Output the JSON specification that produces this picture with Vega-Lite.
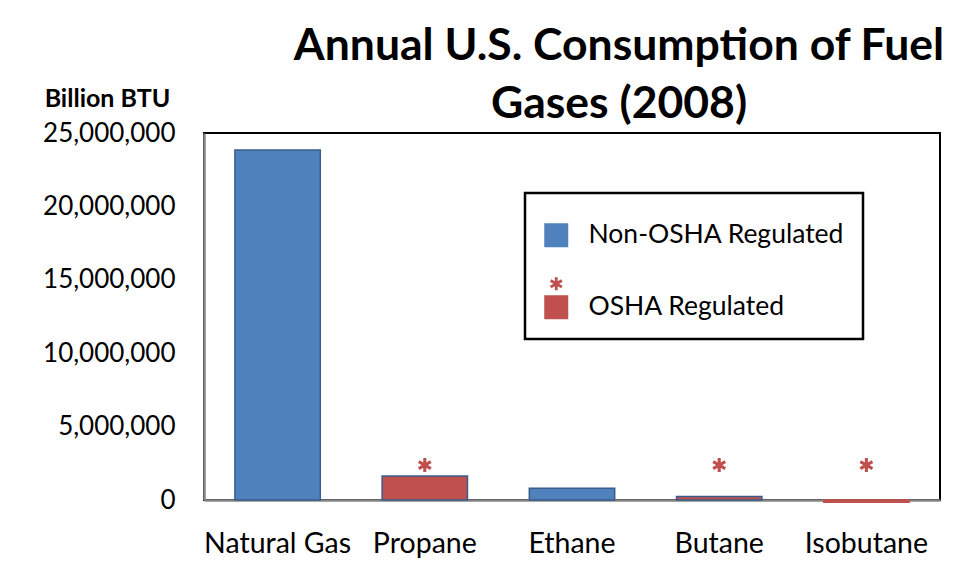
{
  "$schema": "https://vega.github.io/schema/vega-lite/v6.json",
  "width": 736,
  "height": 367,
  "autosize": {"type": "none"},
  "padding": {"left": 204, "top": 133, "right": 16, "bottom": 84},
  "background": "white",
  "title": {
    "text": ["Annual U.S. Consumption of Fuel", "Gases (2008)"],
    "font": "Lato",
    "fontSize": 44.5,
    "fontWeight": "bold",
    "color": "black",
    "anchor": "middle",
    "dx": 47,
    "lineHeight": 58,
    "offset": -41
  },
  "data": {
    "values": [
      {"gas": "Natural Gas", "value": 23840000, "reg": "Non-OSHA Regulated"},
      {"gas": "Propane", "value": 1635000, "reg": "OSHA Regulated"},
      {"gas": "Ethane", "value": 800000, "reg": "Non-OSHA Regulated"},
      {"gas": "Butane", "value": 230000, "reg": "OSHA Regulated"},
      {"gas": "Isobutane", "value": -150000, "reg": "OSHA Regulated"}
    ]
  },
  "encoding": {
    "x": {
      "field": "gas",
      "type": "nominal",
      "sort": null,
      "scale": {"paddingInner": 0.42, "paddingOuter": 0.21},
      "axis": {
        "title": null,
        "labelAngle": 0,
        "labelFont": "Lato",
        "labelFontSize": 28.5,
        "labelColor": "black",
        "labelPadding": 29,
        "ticks": false,
        "domainColor": "#868686",
        "domainWidth": 2.5
      }
    }
  },
  "layer": [
    {
      "mark": {"type": "bar", "strokeWidth": 1.5},
      "encoding": {
        "y": {
          "field": "value",
          "type": "quantitative",
          "scale": {"domain": [0, 25000000], "nice": false},
          "axis": {
            "values": [0, 5000000, 10000000, 15000000, 20000000, 25000000],
            "format": ",d",
            "grid": false,
            "ticks": false,
            "labelFont": "Lato",
            "labelFontSize": 26,
            "labelColor": "black",
            "labelPadding": 29,
            "domainColor": "#868686",
            "domainWidth": 2.5,
            "title": "Billion BTU",
            "titleFont": "Lato",
            "titleFontSize": 25,
            "titleFontWeight": "bold",
            "titleColor": "black",
            "titleAngle": 0,
            "titleAlign": "center",
            "titleBaseline": "middle",
            "titleX": -97,
            "titleY": -35
          }
        },
        "stroke": {
          "condition": {"test": "datum.value < 0", "value": "#C0504D"},
          "value": "#385D8A"
        },
        "color": {
          "field": "reg",
          "type": "nominal",
          "scale": {
            "domain": ["Non-OSHA Regulated", "OSHA Regulated"],
            "range": ["#4F81BD", "#C0504D"]
          },
          "legend": {
            "title": " ",
            "titleFontSize": 8,
            "titlePadding": 3,
            "orient": "none",
            "legendX": 321,
            "legendY": 60,
            "symbolSize": 576,
            "symbolStrokeWidth": 0,
            "symbolType": {
              "expr": "datum.value === 'OSHA Regulated' ? 'M-1,-1L1,-1L1,1L-1,1Z M-0.12,-1.42L0.12,-1.42L0.12,-2.5L-0.12,-2.5Z M0.408,-1.586L0.528,-1.794L-0.408,-2.334L-0.528,-2.126Z M0.528,-2.126L0.408,-2.334L-0.528,-1.794L-0.408,-1.586Z' : 'square'"
            },
            "labelFont": "Lato",
            "labelFontSize": 26.5,
            "labelLimit": 400,
            "labelColor": "black",
            "labelOffset": 19,
            "rowPadding": 28,
            "padding": 18,
            "strokeColor": "black"
          }
        }
      }
    },
    {
      "transform": [{"filter": "datum.reg === 'OSHA Regulated'"}],
      "mark": {
        "type": "point",
        "filled": true,
        "color": "#C0504D",
        "opacity": 1,
        "strokeWidth": 0,
        "size": 196,
        "shape": "M-0.22,1L0.22,1L0.22,-1L-0.22,-1Z M0.756,0.69L0.976,0.31L-0.756,-0.69L-0.976,-0.31Z M0.976,-0.31L0.756,-0.69L-0.976,0.31L-0.756,0.69Z"
      },
      "encoding": {
        "y": {
          "datum": 2380000,
          "type": "quantitative",
          "scale": {"domain": [0, 25000000], "nice": false},
          "axis": {
            "values": [0, 5000000, 10000000, 15000000, 20000000, 25000000],
            "format": ",d",
            "grid": false,
            "ticks": false,
            "labelFont": "Lato",
            "labelFontSize": 26,
            "labelColor": "black",
            "labelPadding": 29,
            "domainColor": "#868686",
            "domainWidth": 2.5,
            "title": "Billion BTU",
            "titleFont": "Lato",
            "titleFontSize": 25,
            "titleFontWeight": "bold",
            "titleColor": "black",
            "titleAngle": 0,
            "titleAlign": "center",
            "titleBaseline": "middle",
            "titleX": -97,
            "titleY": -35
          }
        }
      }
    }
  ],
  "config": {
    "view": {"stroke": "black", "strokeWidth": 2},
    "legend": {"strokeWidth": 2.5}
  }
}
